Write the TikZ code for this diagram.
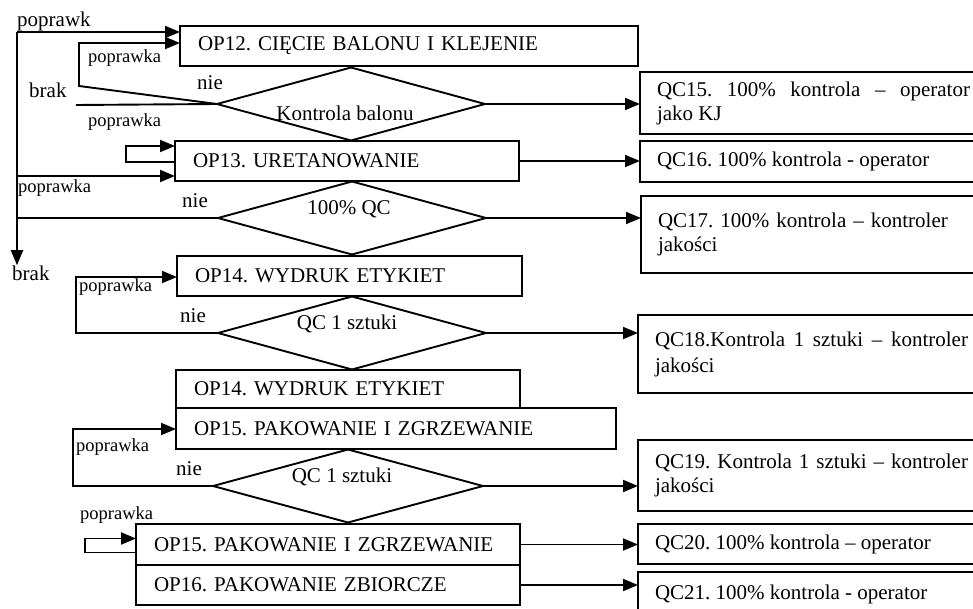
\documentclass[tikz,border=0pt]{standalone}
\usepackage{fontspec}
\setmainfont{Liberation Serif}
\frenchspacing
\usetikzlibrary{shapes.geometric,arrows.meta,positioning}
\tikzstyle{opbox}=[draw, line width=1.9pt, anchor=north west, outer sep=0pt, inner xsep=18pt, inner ysep=0pt, minimum height=40pt, align=left, font=\fontsize{21}{24}\selectfont]
\tikzstyle{qcbox}=[draw, line width=1.9pt, anchor=north west, outer sep=0pt, inner xsep=17pt, inner ysep=0pt, text width=313pt, align=justify, font=\fontsize{21}{24}\selectfont, execute at begin node={\hyphenpenalty=10000\relax\tolerance=10000\relax}]
\tikzstyle{decision}=[draw, diamond, line width=1.9pt, outer sep=0pt, inner sep=0pt, minimum width=268pt, minimum height=73pt]
\tikzstyle{dtxt}=[inner sep=0pt, font=\fontsize{21}{24}\selectfont]
\tikzstyle{txt}=[inner sep=0pt, anchor=base west, font=\fontsize{21}{24}\selectfont]
\tikzstyle{smalltxt}=[inner sep=0pt, anchor=base west, font=\fontsize{18.5}{20}\selectfont]
\tikzstyle{arr}=[-{Triangle[length=15pt,width=12pt]}, line width=1.9pt]
\tikzstyle{plain}=[line width=1.9pt]

\begin{document}
\begin{tikzpicture}[x=1pt, y=-1pt]
            \useasboundingbox (0,0) rectangle (973,609);
            \clip (0,0) rectangle (973,609);

            % Define the operation boxes
            \node[opbox, text width=422pt] (op12) at (180,26) {OP12. CIĘCIE BALONU I KLEJENIE};
            \node[opbox, text width=308pt] (op13) at (175,141) {OP13. URETANOWANIE};
            \node[opbox, text width=309pt] (op14a) at (177,256) {OP14. WYDRUK ETYKIET};
            \node[opbox, text width=308pt, minimum height=38pt] (op14b) at (176,370) {OP14. WYDRUK ETYKIET};
            \node[opbox, text width=404pt, minimum height=41pt] (op15a) at (176,408) {OP15. PAKOWANIE I ZGRZEWANIE};
            \node[opbox, text width=348pt, minimum height=41pt] (op15b) at (136,524) {OP15. PAKOWANIE I ZGRZEWANIE};
            \node[opbox, text width=348pt] (op16) at (136,565) {OP16. PAKOWANIE ZBIORCZE};

            % Define the decisions
            \node[decision] (d1) at (351,104) {};
            \node[decision] (d2) at (352,218) {};
            \node[decision] (d3) at (352,333) {};
            \node[decision, minimum width=270pt] (d4) at (348,486) {};
            \node[dtxt] (d1t) at ([xshift=-6pt, yshift=-9pt]d1.center) {Kontrola balonu};
            \node[dtxt] (d2t) at ([xshift=-3pt, yshift=9pt]d2.center) {100\% QC};
            \node[dtxt] (d3t) at ([xshift=-5pt, yshift=9pt]d3.center) {QC 1 sztuki};
            \node[dtxt] (d4t) at ([xshift=-6pt, yshift=9pt]d4.center) {QC 1 sztuki};

            % Define the quality checks
            \node[qcbox, minimum height=62pt] (qc15) at (640,72) {QC15. 100\% kontrola – operator\linebreak jako KJ};
            \node[qcbox, minimum height=41pt] (qc16) at (640,141) {QC16. 100\% kontrola - operator};
            \node[qcbox, minimum height=77pt, align=left] (qc17) at (641,196) {QC17. 100\% kontrola – kontroler jakości};
            \node[qcbox, minimum height=78pt, font=\fontsize{21}{26}\selectfont] (qc18) at (638,315) {QC18.Kontrola 1 sztuki – kontroler jakości};
            \node[qcbox, minimum height=71pt] (qc19) at (638,440) {QC19. Kontrola 1 sztuki – kontroler jakości};
            \node[qcbox, minimum height=40pt] (qc20) at (638,524) {QC20. 100\% kontrola – operator};
            \node[qcbox, minimum height=44pt] (qc21) at (638,572) {QC21. 100\% kontrola - operator};

            % Add labels
            \node[txt] (pop0) at (17,26.5) {poprawk};
            \node[txt] (brak1) at (29,98) {brak};
            \node[txt] (brak2) at (12,280) {brak};
            \foreach \x/\y [count=\i] in {197/90, 182/208, 180/322, 176/475} {
                    \node[txt] (nie\i) at (\x,\y) {nie};
                }
            \foreach \x/\y [count=\i] in {88/63, 88/127, 18/193, 79/291, 76/451, 80/519} {
                    \node[smalltxt] (pop\i) at (\x,\y) {poprawka};
                }

            % Loose ends and bends
            \coordinate (lt) at (17,32);
            \coordinate (l13) at (17,176);
            \coordinate (b1) at (76,105);
            \coordinate (p12a) at (79,86);
            \coordinate (p12b) at (79,43);
            \coordinate (p14) at (76,277);
            \coordinate (p15) at (73,429);

            % Draw the return line on the left
            \draw[arr] (lt) -- (lt -| op12.west);
            \draw[arr] (lt) -- (lt |- brak2.north);
            \draw[arr] (l13) -- (l13 -| op13.west);
            \draw[plain] (d2.west) -- (d2.west -| lt);

            % Draw the rework loops
            \draw[arr] (d1.west) -- (p12a) -- (p12b) -- (p12b -| op12.west);
            \draw[plain] (d1.west) -- (b1);
            \draw[arr] ([yshift=-1pt]op13.west) -- ++(-49,0) |- ([yshift=15pt]op13.west);
            \draw[arr] (d3.west) -| (p14) -- (p14 -| op14a.west);
            \draw[arr] (d4.west) -| (p15) -- (p15 -| op15a.west);
            \draw[arr] ([yshift=-8pt]op15b.west) -- ++(-51,0) |- ([yshift=6pt]op15b.west);

            % Draw the arrows to the checks
            \foreach \a/\b in {d1/qc15, op13/qc16, d2/qc17, d3/qc18, d4/qc19, op15b/qc20, op16/qc21} {
                    \draw[arr] (\a.east) -- (\a.east -| \b.west);
                }

        \end{tikzpicture}
\end{document}
